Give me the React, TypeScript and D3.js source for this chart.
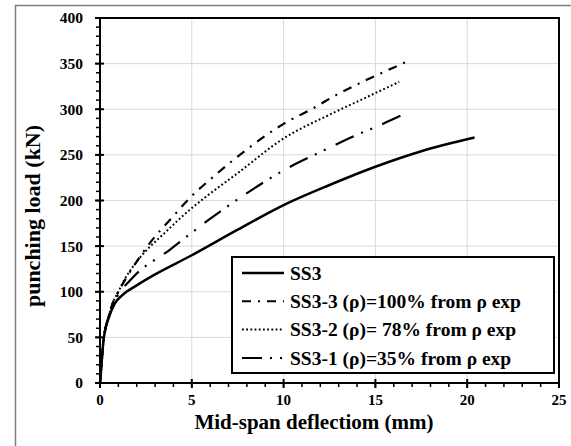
import React, { useEffect, useRef } from 'react';
import * as d3 from 'd3';

// deflection (mm) / load (kN)
const ss3X = [0, 0.08, 0.18, 0.3, 0.45, 0.8, 1.2, 2, 3, 5, 7.5, 10, 12.5, 15, 17.5, 20.4];
const ss3Y = [0, 20, 45, 60, 70, 87, 96, 107, 119, 140, 168, 195, 217, 237, 254, 269];

const ss33X = [0, 0.08, 0.18, 0.3, 0.45, 0.7, 1, 1.8, 2.7, 4, 4.9, 6, 8, 10, 11.6, 12.9, 14.5, 16.7];
const ss33Y = [0, 20, 45, 60, 71, 88, 100, 127, 153, 183, 203, 223, 256, 284, 301, 316, 332, 352];

const ss32X = [0, 0.08, 0.18, 0.3, 0.45, 0.7, 1, 1.3, 2.2, 3.5, 4.9, 5.7, 7.5, 10, 12.5, 14.5, 16.3];
const ss32Y = [0, 20, 45, 60, 71, 88, 100, 112, 138, 164, 190, 203, 230, 268, 294, 313, 330];

const ss31X = [0, 0.08, 0.18, 0.3, 0.45, 0.7, 1, 1.8, 3.8, 5.8, 7.7, 10, 12.2, 14, 15.3, 16.7];
const ss31Y = [0, 20, 45, 60, 71, 87, 97, 116, 146, 177, 204, 233, 255, 272, 283, 296];

const seriesNames = [
  'SS3',
  'SS3-3 (ρ)=100% from ρ exp',
  'SS3-2 (ρ)= 78% from ρ exp',
  'SS3-1 (ρ)=35% from ρ exp',
];

const xTicks = [0, 5, 10, 15, 20, 25];
const yTicks = [0, 50, 100, 150, 200, 250, 300, 350, 400];

const FONT = '"Liberation Serif", "Times New Roman", serif';

export default function App() {
  const ref = useRef<SVGSVGElement>(null);

  useEffect(() => {
    const svg = d3.select(ref.current);
    svg.selectAll('*').remove();

    const left = 100, right = 559, top = 18, bottom = 383;
    const x = d3.scaleLinear().domain([0, 25]).range([left, right]);
    const y = d3.scaleLinear().domain([0, 400]).range([bottom, top]);

    // outer chart frame (right/bottom edges fall outside the picture)
    svg.append('rect')
      .attr('x', 15.5).attr('y', 5.5).attr('width', 600).attr('height', 500)
      .attr('fill', 'white').attr('stroke', '#7f7f7f').attr('stroke-width', 1.5);

    // grid
    const g = svg.append('g');
    xTicks.slice(1, -1).forEach((t) => {
      g.append('line').attr('x1', x(t)).attr('x2', x(t)).attr('y1', top).attr('y2', bottom)
        .attr('stroke', '#d9d9d9').attr('stroke-width', 1);
    });
    yTicks.slice(1, -1).forEach((t) => {
      g.append('line').attr('x1', left).attr('x2', right).attr('y1', y(t)).attr('y2', y(t))
        .attr('stroke', '#d9d9d9').attr('stroke-width', 1);
    });

    // plot frame top + right
    svg.append('path')
      .attr('d', `M${left},${top}H${right}V${bottom}`)
      .attr('fill', 'none').attr('stroke', 'black').attr('stroke-width', 2);

    // minor ticks
    d3.range(0, 25.01, 1).forEach((t) => {
      svg.append('line').attr('x1', x(t)).attr('x2', x(t)).attr('y1', bottom).attr('y2', bottom + 4)
        .attr('stroke', 'black').attr('stroke-width', 1.5);
    });
    d3.range(0, 400.01, 10).forEach((t) => {
      svg.append('line').attr('x1', left - 4).attr('x2', left).attr('y1', y(t)).attr('y2', y(t))
        .attr('stroke', 'black').attr('stroke-width', 1.5);
    });
    // major ticks + labels
    xTicks.forEach((t) => {
      svg.append('line').attr('x1', x(t)).attr('x2', x(t)).attr('y1', bottom - 4).attr('y2', bottom + 5)
        .attr('stroke', 'black').attr('stroke-width', 2);
      svg.append('text').attr('x', x(t)).attr('y', bottom + 22)
        .attr('text-anchor', 'middle')
        .style('font-family', FONT).attr('font-weight', 'bold').attr('font-size', 15)
        .text(t);
    });
    yTicks.forEach((t) => {
      svg.append('line').attr('x1', left - 5).attr('x2', left + 4).attr('y1', y(t)).attr('y2', y(t))
        .attr('stroke', 'black').attr('stroke-width', 2);
      svg.append('text').attr('x', 83).attr('y', y(t)).attr('dy', '0.35em')
        .attr('text-anchor', 'end')
        .style('font-family', FONT).attr('font-weight', 'bold').attr('font-size', 15.5)
        .text(t);
    });

    // axes lines
    svg.append('path')
      .attr('d', `M${left},${top}V${bottom}H${right}`)
      .attr('fill', 'none').attr('stroke', 'black').attr('stroke-width', 2);

    // series
    const series = [
      { xs: ss3X, ys: ss3Y, dash: null, w: 2.5 },
      { xs: ss33X, ys: ss33Y, dash: '9,7,2,7', w: 2.2 },
      { xs: ss32X, ys: ss32Y, dash: '1.8,2.4', w: 2 },
      { xs: ss31X, ys: ss31Y, dash: '20,8,2,8,2,11', w: 2.2 },
    ];
    const line = d3.line<[number, number]>()
      .x((d) => x(d[0])).y((d) => y(d[1]))
      .curve(d3.curveMonotoneX);

    series.forEach((s) => {
      const pts = s.xs.map((v, i) => [v, s.ys[i]] as [number, number]);
      svg.append('path')
        .attr('d', line(pts))
        .attr('fill', 'none').attr('stroke', 'black').attr('stroke-width', s.w)
        .attr('stroke-dasharray', s.dash);
    });

    // legend
    const lg = svg.append('g');
    lg.append('rect').attr('x', 232).attr('y', 257).attr('width', 322).attr('height', 116)
      .attr('fill', 'white').attr('stroke', 'black').attr('stroke-width', 2);
    seriesNames.forEach((name, i) => {
      const yy = 273 + i * 28.3;
      lg.append('line').attr('x1', 242).attr('x2', 284).attr('y1', yy).attr('y2', yy)
        .attr('stroke', 'black').attr('stroke-width', i === 0 ? 2.5 : 2)
        .attr('stroke-dasharray', series[i].dash);
      lg.append('text').attr('x', 290).attr('y', yy).attr('dy', '0.35em')
        .style('font-family', FONT).attr('font-weight', 'bold').attr('font-size', 19.5)
        .text(name);
    });

    // axis titles
    svg.append('text').attr('x', 314).attr('y', 429).attr('text-anchor', 'middle')
      .style('font-family', FONT).attr('font-weight', 'bold').attr('font-size', 21)
      .text('Mid-span deflectiom (mm)');
    svg.append('text')
      .attr('transform', 'translate(40,216) rotate(-90)')
      .attr('text-anchor', 'middle')
      .style('font-family', FONT).attr('font-weight', 'bold').attr('font-size', 22)
      .text('punching load (kN)');
  }, []);

  return (
    <svg ref={ref} width={571} height={446}
      style={{ position: 'absolute', left: 0, top: 0, background: 'white' }} />
  );
}
